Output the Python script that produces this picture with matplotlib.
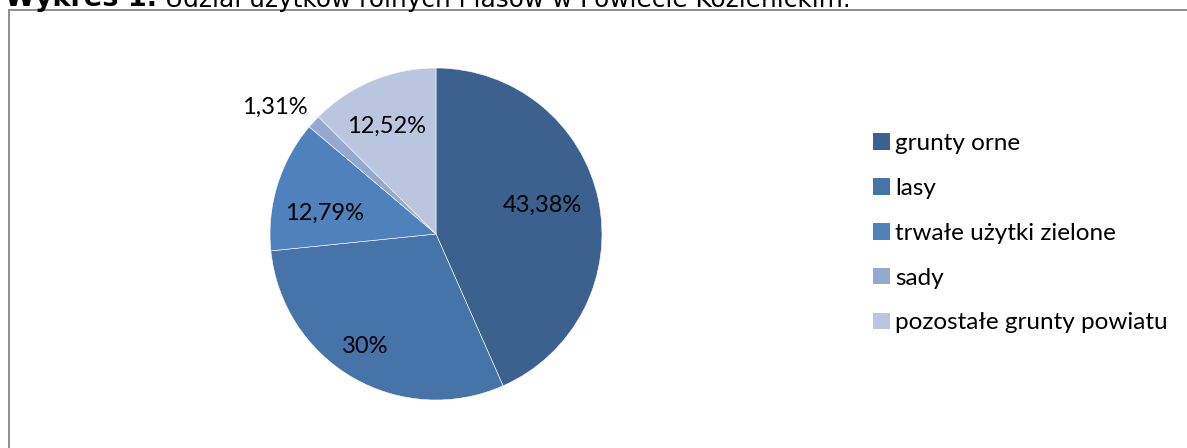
import numpy as np
import matplotlib
matplotlib.use("Agg")
import matplotlib.pyplot as plt
from matplotlib.patches import Rectangle

categories = ["grunty orne", "lasy", "trwałe użytki zielone", "sady", "pozostałe grunty powiatu"]
values = [43.38, 30.0, 12.79, 1.31, 12.52]
value_labels = ["43,38%", "30%", "12,79%", "1,31%", "12,52%"]
colors = ["#3C618F", "#4673A8", "#4F81BD", "#95A9D0", "#BAC6E0"]
# label placement (fraction of radius, angular shift in degrees from slice middle)
label_radius = [0.667, 0.789, 0.683, 1.245, 0.725]
label_shift = [4.1, -2.6, 5.5, 4.0, 1.5]

W, H = 1187, 448
fig = plt.figure(figsize=(W / 100, H / 100), dpi=100)

# outer frame (cropped on right and bottom)
fig.patches.append(Rectangle((8.5 / W, -0.05), 1.1, (H - 10.5) / H + 0.05,
                             transform=fig.transFigure, fill=False,
                             edgecolor="#878787", linewidth=1.3))

# title (cut by the top edge, as in the reference)
fig.text(157 / W, 1 - 6.5 / H, "Wykres 1.", fontsize=19.5, fontweight="bold",
         family="DejaVu Sans", va="baseline", ha="right")
fig.text(165 / W, 1 - 6.5 / H, "Udział użytków rolnych i lasów w Powiecie Kozienickim.",
         fontsize=17.8, family="DejaVu Sans", va="baseline", ha="left")

cx, cy, r = 436, 234, 166
ax = fig.add_axes([(cx - r) / W, (H - cy - r) / H, 2 * r / W, 2 * r / H])
wedges, _ = ax.pie(values, colors=colors, startangle=90, counterclock=False,
                   radius=1, wedgeprops=dict(edgecolor="white", linewidth=0.4))
ax.set_xlim(-1, 1)
ax.set_ylim(-1, 1)
ax.set_aspect("equal")
ax.axis("off")

for w, lab, rr, sh in zip(wedges, value_labels, label_radius, label_shift):
    ang = np.deg2rad((w.theta1 + w.theta2) / 2 + sh)
    ax.text(rr * np.cos(ang), rr * np.sin(ang), lab, ha="center", va="center_baseline",
            fontsize=17, family="Lato", color="black", clip_on=False)

handles = [Rectangle((0, 0), 1, 1, facecolor=c, edgecolor="none") for c in colors]
fig.legend(handles, categories, loc="upper left",
           bbox_to_anchor=(861 / W, 1 - 121 / H), frameon=False,
           prop=dict(family="Lato", size=17.5), handlelength=0.68, handleheight=0.68,
           handletextpad=0.22, labelspacing=0.98, borderpad=0)

fig.savefig("out.png", dpi=100)
